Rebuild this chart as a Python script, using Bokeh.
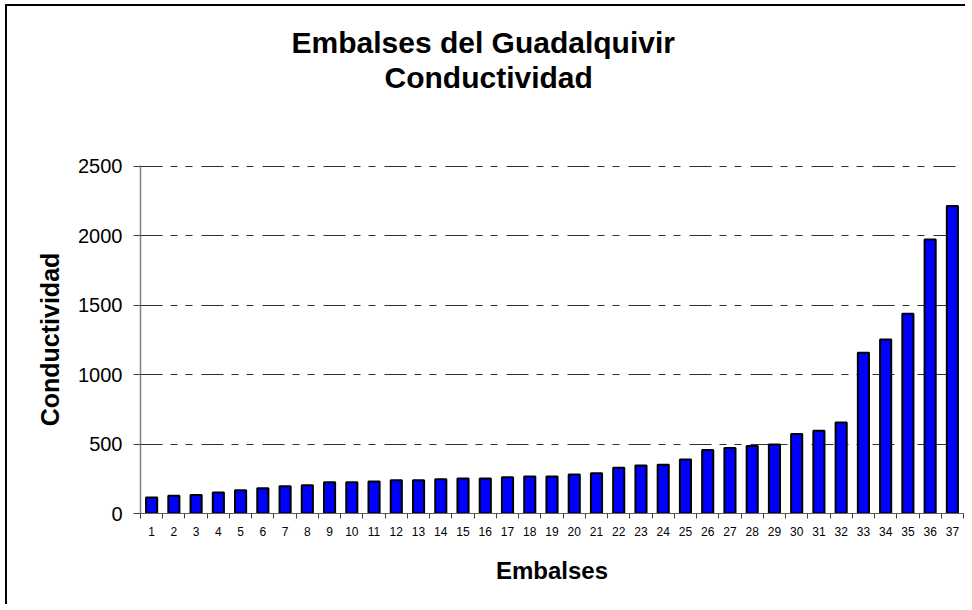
from bokeh.plotting import figure
from bokeh.models import Title, FixedTicker, Range1d, ColumnDataSource
from bokeh.embed import file_html
from bokeh.resources import INLINE

# ---- data ----
embalses = [1, 2, 3, 4, 5, 6, 7, 8, 9, 10, 11, 12, 13, 14, 15, 16, 17, 18, 19,
            20, 21, 22, 23, 24, 25, 26, 27, 28, 29, 30, 31, 32, 33, 34, 35, 36, 37]
conductividad = [115, 127, 134, 151, 168, 182, 196, 203, 225, 225, 230, 239, 239,
                 247, 251, 251, 261, 266, 266, 280, 290, 330, 345, 350, 388, 457,
                 472, 486, 496, 572, 596, 654, 1157, 1252, 1437, 1971, 2213]
y_ticks = [0, 500, 1000, 1500, 2000, 2500]
title_line1 = "Embalses del Guadalquivir"
title_line2 = "Conductividad"
x_label = "Embalses"
y_label = "Conductividad"

FONT = "Liberation Sans"

src = ColumnDataSource(dict(x=embalses, y=conductividad))

p = figure(width=960, height=600,
           x_range=Range1d(0.5, len(embalses) + 0.5),
           y_range=Range1d(y_ticks[0], y_ticks[-1] + 4),
           output_backend="svg", toolbar_location=None,
           min_border_left=133, min_border_right=4,
           min_border_top=159, min_border_bottom=93)
p.styles = {"border-left": "2px solid black", "border-top": "2px solid black",
            "margin-left": "5px", "margin-top": "4px"}

p.outline_line_color = None
p.background_fill_color = "white"
p.border_fill_color = "white"

# titles: spacer (nearest the frame), second line, then main title (outermost)
p.add_layout(Title(text=" ", text_font_size="1px", standoff=69), "above")
p.add_layout(Title(text=title_line2, text_font=FONT, text_font_size="30px",
                   text_font_style="bold", text_color="black",
                   align="left", offset=244, standoff=0), "above")
p.title.text = title_line1
p.title.text_font = FONT
p.title.text_font_size = "30px"
p.title.text_font_style = "bold"
p.title.text_color = "black"
p.title.align = "left"
p.title.offset = 151
p.title.standoff = 0

p.vbar(x="x", top="y", width=0.5, source=src,
       fill_color="#0000FF", line_color="black", line_width=2)

# x axis
xa = p.xaxis[0]
xa.ticker = FixedTicker(ticks=embalses,
                        minor_ticks=[v - 0.5 for v in embalses] + [embalses[-1] + 0.5])
xa.major_tick_out = 0
xa.major_tick_in = 0
xa.minor_tick_out = 5
xa.minor_tick_in = 0
xa.minor_tick_line_color = "#404040"
xa.axis_line_color = "#606060"
xa.axis_line_width = 1
xa.major_label_text_font = FONT
xa.major_label_text_font_size = "12px"
xa.major_label_text_color = "black"
xa.major_label_standoff = 8
xa.axis_label = x_label
xa.axis_label_text_font = FONT
xa.axis_label_text_font_size = "24px"
xa.axis_label_text_font_style = "bold"
xa.axis_label_text_color = "black"
xa.axis_label_standoff = 18

# y axis
ya = p.yaxis[0]
ya.ticker = FixedTicker(ticks=y_ticks)
ya.major_tick_out = 7
ya.major_tick_in = 0
ya.minor_tick_out = 0
ya.minor_tick_in = 0
ya.major_tick_line_color = "#404040"
ya.axis_line_color = "#808080"
ya.axis_line_width = 1.5
ya.major_label_text_font = FONT
ya.major_label_text_font_size = "20px"
ya.major_label_text_color = "black"
ya.major_label_standoff = 11
ya.axis_label = y_label
ya.axis_label_text_font = FONT
ya.axis_label_text_font_size = "25px"
ya.axis_label_text_font_style = "bold"
ya.axis_label_text_color = "black"
ya.axis_label_standoff = 11

# grid
p.xgrid.grid_line_color = None
p.ygrid.grid_line_color = "#303030"
p.ygrid.grid_line_width = 1
p.ygrid.grid_line_dash = "22 8 7 8 7 9"

open("out.html", "w").write(file_html(p, INLINE))
